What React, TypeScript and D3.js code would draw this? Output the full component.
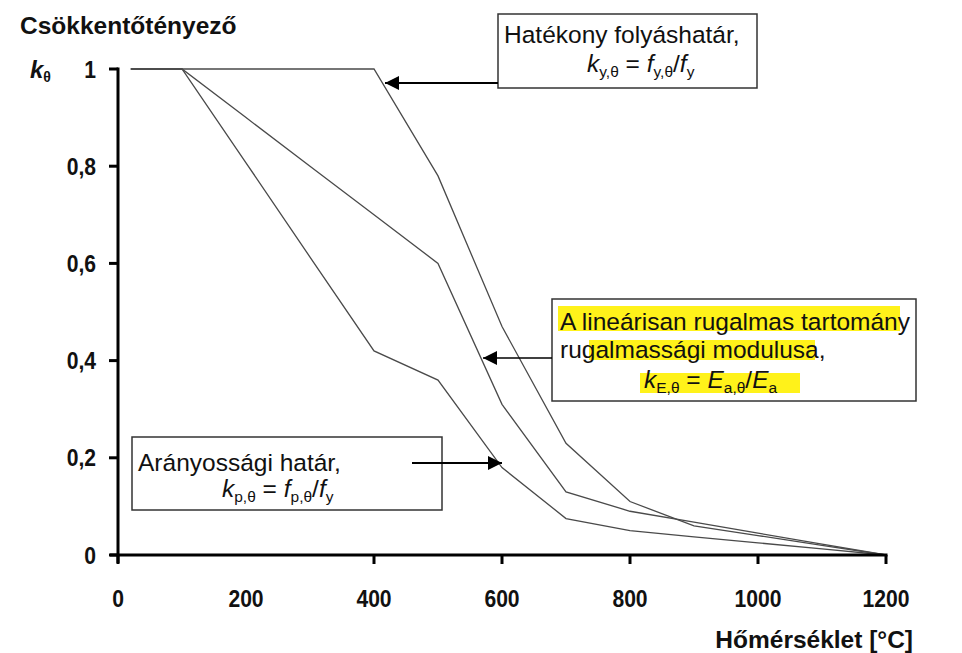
import React from "react";
import * as d3 from "d3";

const temps = [20, 100, 200, 300, 400, 500, 600, 700, 800, 900, 1000, 1100, 1200];
const kY = [1, 1, 1, 1, 1, 0.78, 0.47, 0.23, 0.11, 0.06, 0.04, 0.02, 0];
const kE = [1, 1, 0.9, 0.8, 0.7, 0.6, 0.31, 0.13, 0.09, 0.0675, 0.045, 0.0225, 0];
const kP = [1, 1, 0.807, 0.613, 0.42, 0.36, 0.18, 0.075, 0.05, 0.0375, 0.025, 0.0125, 0];

const xTicks = [0, 200, 400, 600, 800, 1000, 1200];
const xTickMarks = [0, 400, 600, 800, 1000, 1200];
const yTicks = [0, 0.2, 0.4, 0.6, 0.8, 1];
const yTickLabels = ["0", "0,2", "0,4", "0,6", "0,8", "1"];

const FONT = "'Liberation Sans', Arial, sans-serif";

export default function App() {
  const x = d3.scaleLinear().domain([0, 1200]).range([118, 886]);
  const y = d3.scaleLinear().domain([0, 1]).range([555, 69]);
  const line = d3
    .line<number>()
    .x((_, i) => x(temps[i]))
    .y((d) => y(d));

  const series = [kY, kE, kP];
  const sub = { fontSize: 15.5, dy: 5 } as any;
  const FS = 24.5;

  return (
    <svg
      width={962}
      height={653}
      style={{ position: "absolute", left: 0, top: 0, background: "#fff" }}
      fontFamily={FONT}
    >
      <defs>
        <marker
          id="arrb"
          viewBox="0 0 14 14"
          refX={14}
          refY={7}
          markerWidth={14}
          markerHeight={14}
          orient="auto"
          markerUnits="userSpaceOnUse"
        >
          <path d="M0,0 L14,7 L0,14 Z" fill="#000" />
        </marker>
      </defs>

      {/* data lines */}
      {series.map((s, i) => (
        <path key={i} d={line(s) || ""} fill="none" stroke="#4a4a4a" strokeWidth={1.3} />
      ))}

      {/* axes */}
      <line x1={x(0)} x2={x(0)} y1={y(1) - 1.5} y2={y(0) + 8} stroke="#000" strokeWidth={3} />
      <line x1={x(0) - 8} x2={x(1200) + 1.5} y1={y(0)} y2={y(0)} stroke="#000" strokeWidth={3} />
      {yTicks.map((t) => (
        <line key={t} x1={x(0) - 9} x2={x(0)} y1={y(t)} y2={y(t)} stroke="#000" strokeWidth={3} />
      ))}
      {xTickMarks.map((t) => (
        <line key={t} x1={x(t)} x2={x(t)} y1={y(0)} y2={y(0) + 9} stroke="#000" strokeWidth={3} />
      ))}

      {/* tick labels */}
      {yTicks.map((t, i) => (
        <text
          key={t}
          transform={`translate(96,${y(t) + 8.5}) scale(0.88,1)`}
          textAnchor="end"
          fontSize={24}
          fontWeight="bold"
          fill="#111"
        >
          {yTickLabels[i]}
        </text>
      ))}
      {xTicks.map((t) => (
        <text
          key={t}
          transform={`translate(${x(t)},607) scale(0.88,1)`}
          textAnchor="middle"
          fontSize={24}
          fontWeight="bold"
          fill="#111"
        >
          {t}
        </text>
      ))}

      {/* axis titles */}
      <text x={20} y={34} fontSize={24.5} fontWeight="bold" fill="#111">
        Csökkentőtényező
      </text>
      <text x={30} y={78} fontSize={24} fontWeight="bold" fill="#111">
        <tspan fontStyle="italic">k</tspan>
        <tspan fontSize={14} dy={4}>θ</tspan>
      </text>
      <text x={913} y={648} textAnchor="end" fontSize={24.5} fontWeight="bold" fill="#111">
        Hőmérséklet [°C]
      </text>

      {/* Box 1 */}
      <rect x={498} y={14} width={259} height={74} fill="#fff" stroke="#333" strokeWidth={1.5} />
      <text x={504} y={43} fontSize={FS} fill="#111">
        Hatékony folyáshatár,
      </text>
      <text x={587} y={72} fontSize={FS} fill="#111">
        <tspan fontStyle="italic">k</tspan>
        <tspan {...sub}>y,θ</tspan>
        <tspan dy={-5}> = </tspan>
        <tspan fontStyle="italic">f</tspan>
        <tspan {...sub}>y,θ</tspan>
        <tspan dy={-5}>/</tspan>
        <tspan fontStyle="italic">f</tspan>
        <tspan {...sub}>y</tspan>
      </text>
      <line x1={498} x2={385} y1={83} y2={83} stroke="#000" strokeWidth={2.2} markerEnd="url(#arrb)" />

      {/* Box 2 */}
      <rect x={552} y={299} width={364} height={102} fill="#fff" stroke="#333" strokeWidth={1.5} />
      <rect x={558} y={306} width={342} height={25} fill="#fff21a" />
      <rect x={589} y={340} width={226} height={20} fill="#fff21a" />
      <rect x={640} y={373} width={160} height={20} fill="#fff21a" />
      <text x={560} y={330} fontSize={FS} fill="#111">
        A lineárisan rugalmas tartomány
      </text>
      <text x={560} y={358} fontSize={FS} fill="#111">
        rugalmassági modulusa,
      </text>
      <text x={644} y={388} fontSize={FS} fill="#111">
        <tspan fontStyle="italic">k</tspan>
        <tspan {...sub}>E,θ</tspan>
        <tspan dy={-5}> = </tspan>
        <tspan fontStyle="italic">E</tspan>
        <tspan {...sub}>a,θ</tspan>
        <tspan dy={-5}>/</tspan>
        <tspan fontStyle="italic">E</tspan>
        <tspan {...sub}>a</tspan>
      </text>
      <line x1={552} x2={483} y1={358} y2={358} stroke="#000" strokeWidth={1.6} markerEnd="url(#arrb)" />

      {/* Box 3 */}
      <rect x={132} y={437} width={310} height={73} fill="#fff" stroke="#333" strokeWidth={1.5} />
      <text x={138} y={471} fontSize={FS} fill="#111">
        Arányossági határ,
      </text>
      <text x={222} y={497} fontSize={FS} fill="#111">
        <tspan fontStyle="italic">k</tspan>
        <tspan {...sub}>p,θ</tspan>
        <tspan dy={-5}> = </tspan>
        <tspan fontStyle="italic">f</tspan>
        <tspan {...sub}>p,θ</tspan>
        <tspan dy={-5}>/</tspan>
        <tspan fontStyle="italic">f</tspan>
        <tspan {...sub}>y</tspan>
      </text>
      <line x1={412} x2={502} y1={463} y2={463} stroke="#000" strokeWidth={1.8} markerEnd="url(#arrb)" />
    </svg>
  );
}
